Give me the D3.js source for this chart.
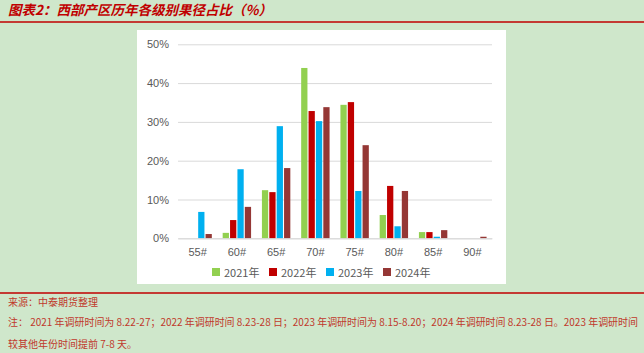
<!DOCTYPE html>
<html lang="zh">
<head>
<meta charset="UTF-8">
<title>西部产区历年各级别果径占比</title>
<script src="https://d3js.org/d3.v7.min.js"></script>
<style>
  body { margin: 0; background: #cfe7cb; }
  svg { display: block; }
</style>
</head>
<body>
<svg width="644" height="353"></svg>
<script>
// categories and series (percent)
let sizes = ["55#", "60#", "65#", "70#", "75#", "80#", "85#", "90#"];
let years = ["2021年", "2022年", "2023年", "2024年"];
let v2021 = [0, 1.4, 12.4, 43.9, 34.4, 6.0, 1.6, 0];
let v2022 = [0, 4.7, 11.9, 32.8, 35.1, 13.5, 1.6, 0];
let v2023 = [6.8, 17.8, 28.9, 30.2, 12.2, 3.1, 0.4, 0];
let v2024 = [1.1, 8.1, 18.1, 33.8, 24.0, 12.2, 2.1, 0.4];
let yTicks = [0, 10, 20, 30, 40, 50];
let colors = ["#92d050", "#c00000", "#00b0f0", "#953735"];

let series = [v2021, v2022, v2023, v2024];
let svg = d3.select("svg");
let cjk = "'Noto Sans CJK SC', sans-serif";
let red = "#c00000";

// title + rules
svg.append("text")
  .attr("x", 8).attr("y", 15)
  .attr("fill", red)
  .style("font-family", cjk).style("font-size", "13.5px")
  .style("font-weight", "bold").style("font-style", "italic")
  .text("图表2：西部产区历年各级别果径占比（%）");
svg.append("line").attr("x1", 0).attr("x2", 644).attr("y1", 22).attr("y2", 22)
  .attr("stroke", red).attr("stroke-width", 1.5);
svg.append("line").attr("x1", 0).attr("x2", 644).attr("y1", 293).attr("y2", 293)
  .attr("stroke", red).attr("stroke-width", 1.5);

// chart panel
svg.append("rect").attr("x", 137).attr("y", 30).attr("width", 369).attr("height", 254)
  .attr("fill", "#ffffff");

let x = d3.scaleBand().domain(sizes).range([178, 492]);
let y = d3.scaleLinear().domain([0, 50]).range([238.3, 44.3]);
let xs = d3.scaleBand().domain(d3.range(4)).range([0, 28.4]).paddingInner(0.15);

let grid = svg.append("g").attr("transform", "translate(178,0)")
  .call(d3.axisLeft(y).tickValues(yTicks).tickSize(-314).tickFormat(d => d + "%"));
grid.select(".domain").remove();
grid.selectAll(".tick line").attr("stroke", "#d9d9d9").attr("stroke-width", 1);
grid.selectAll(".tick text").attr("x", -9).attr("fill", "#595959")
  .style("font-family", "'Liberation Sans', Arial, sans-serif").style("font-size", "11px");

let groups = svg.append("g").selectAll("g").data(series).enter().append("g")
  .attr("fill", (d, i) => colors[i]);
groups.selectAll("rect").data((d, i) => d.map((v, j) => ({v: v, j: j, i: i}))).enter()
  .append("rect")
  .attr("x", d => x(sizes[d.j]) + (x.bandwidth() - 28.4) / 2 + xs(d.i))
  .attr("width", xs.bandwidth())
  .attr("y", d => y(d.v))
  .attr("height", d => y(0) - y(d.v));

let xa = svg.append("g").attr("transform", "translate(0,238.3)")
  .call(d3.axisBottom(x).tickSize(0).tickPadding(10));
xa.select(".domain").attr("stroke", "#d9d9d9");
xa.selectAll("text").attr("fill", "#595959")
  .style("font-family", "'Liberation Sans', Arial, sans-serif").style("font-size", "11px");

// legend
let lg = svg.append("g").selectAll("g").data(years).enter().append("g")
  .attr("transform", (d, i) => `translate(${212 + i * 57},268)`);
lg.append("rect").attr("width", 8).attr("height", 8).attr("fill", (d, i) => colors[i]);
lg.append("text").attr("x", 12).attr("y", 8.5).attr("fill", "#595959")
  .style("font-family", cjk).style("font-size", "11px").text(d => d);

// source and note
let note = svg.append("g").attr("fill", "#c0392b")
  .style("font-family", cjk).style("font-size", "10px");
note.append("text").attr("x", 8).attr("y", 306).text("来源：中泰期货整理");
note.append("text").attr("x", 8).attr("y", 326)
  .attr("textLength", 630).attr("lengthAdjust", "spacingAndGlyphs")
  .text("注： 2021 年调研时间为 8.22-27；2022 年调研时间 8.23-28 日；2023 年调研时间为 8.15-8.20；2024 年调研时间 8.23-28 日。2023 年调研时间");
note.append("text").attr("x", 8).attr("y", 348).text("较其他年份时间提前 7-8 天。");
</script>
</body>
</html>
